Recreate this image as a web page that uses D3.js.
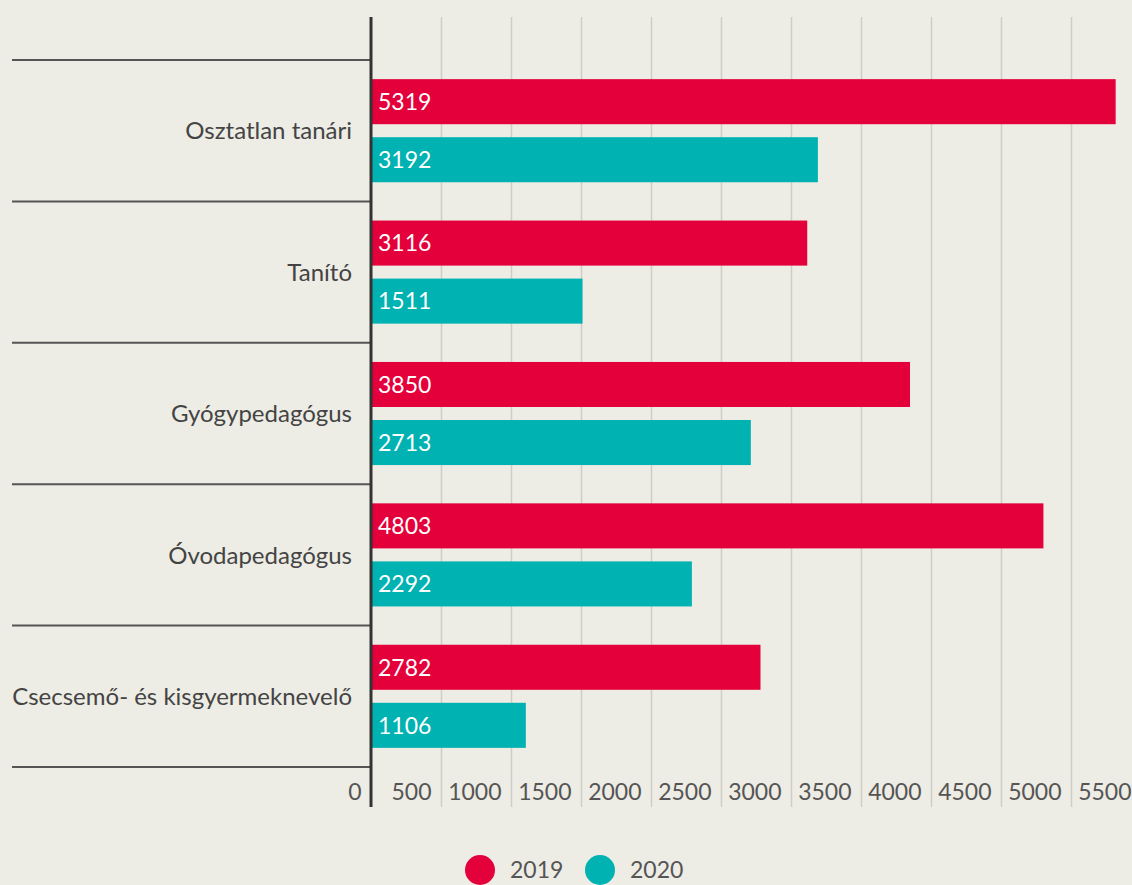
<!DOCTYPE html>
<html>
<head>
<meta charset="utf-8">
<script src="https://cdn.jsdelivr.net/npm/d3@7"></script>
<style>
  body { margin: 0; background: #edece5; }
  svg { display: block; font-family: Lato, "Open Sans", sans-serif; }
  .grid line { stroke: #cfcdc6; stroke-width: 1.5; }
  .grid path { display: none; }
  .xlabels path, .xlabels line { display: none; }
  .xlabels text { fill: #555; font-size: 23px; font-family: Lato, sans-serif; }
  .cat { fill: #444; font-size: 24px; }
  .value { fill: #fff; font-size: 23px; }
  .sep { stroke: #555; stroke-width: 2; }
</style>
</head>
<body>
<div id="grafico"><svg width="1132" height="885"></svg></div>
<script>
const categorias = ['Osztatlan tanári', 'Tanító', 'Gyógypedagógus', 'Óvodapedagógus', 'Csecsemő- és kisgyermeknevelő']
const series = ['2019', '2020']
const valores2019 = [5319, 3116, 3850, 4803, 2782]
const valores2020 = [3192, 1511, 2713, 2292, 1106]
const ticks = [0, 500, 1000, 1500, 2000, 2500, 3000, 3500, 4000, 4500, 5000, 5500]
const cores = ['#e4003a', '#00b2b1']

const dados = categorias.map((c, i) => ({ name: c, valores: [valores2019[i], valores2020[i]] }))

const svg = d3.select('#grafico svg')

const margin = { top: 60, left: 371 }
const height = 707
const gridTop = 17, gridBottom = 807

const xScale = d3.scaleLinear()
  .domain([0, 5500])
  .range([margin.left, margin.left + 770])

const yScale = d3.scaleBand()
  .domain(categorias)
  .range([margin.top, margin.top + height])

const ySub = d3.scaleBand()
  .domain(series)
  .range([0, yScale.bandwidth()])
  .paddingInner(0.224)
  .paddingOuter(0.33)

/*grid*/
svg.append('g')
  .attr('class', 'grid')
  .attr('transform', `translate(0, ${gridBottom})`)
  .call(d3.axisBottom(xScale)
    .tickValues(ticks.slice(1))
    .tickSize(-(gridBottom - gridTop))
    .tickFormat('')
  )

/*separadores*/
const bordas = categorias.map(c => yScale(c)).concat([margin.top + height])
svg.selectAll('.sep')
  .data(bordas)
  .enter()
  .append('line')
  .attr('class', 'sep')
  .attr('x1', 12)
  .attr('x2', margin.left)
  .attr('y1', d => d)
  .attr('y2', d => d)

/*barras*/
const grupos = svg.selectAll('.cat-g')
  .data(dados)
  .enter()
  .append('g')
  .attr('transform', d => `translate(0, ${yScale(d.name)})`)

grupos.selectAll('rect')
  .data(d => d.valores.map((v, i) => ({ serie: series[i], v: v, i: i })))
  .enter()
  .append('rect')
  .attr('x', xScale(0))
  .attr('y', d => ySub(d.serie))
  .attr('width', d => xScale(d.v) - xScale(0))
  .attr('height', ySub.bandwidth())
  .attr('fill', d => cores[d.i])

grupos.selectAll('.value')
  .data(d => d.valores.map((v, i) => ({ serie: series[i], v: v })))
  .enter()
  .append('text')
  .attr('class', 'value')
  .attr('x', xScale(0) + 7)
  .attr('y', d => ySub(d.serie) + ySub.bandwidth() / 2)
  .attr('dy', '0.36em')
  .text(d => d.v)

grupos.append('text')
  .attr('class', 'cat')
  .attr('x', 352)
  .attr('y', yScale.bandwidth() / 2)
  .attr('dy', '0.36em')
  .attr('text-anchor', 'end')
  .text(d => d.name)

/*eixo y*/
svg.append('line')
  .attr('x1', xScale(0))
  .attr('x2', xScale(0))
  .attr('y1', gridTop)
  .attr('y2', gridBottom)
  .attr('stroke', '#333')
  .attr('stroke-width', 3)

/*txt x axis*/
svg.append('g')
  .attr('class', 'xlabels')
  .attr('transform', `translate(0, 800)`)
  .call(d3.axisBottom(xScale).tickValues(ticks).tickFormat(d3.format('d')).tickSize(0).tickPadding(0))
  .selectAll('text')
  .attr('text-anchor', 'end')
  .attr('dx', -10)
  .attr('dy', 0)
  .attr('y', 0)

/*legenda*/
const legenda = svg.append('g')
  .selectAll('g')
  .data(series)
  .enter()
  .append('g')
  .attr('transform', (d, i) => `translate(${480 + i * 120}, 870)`)

legenda.append('circle')
  .attr('r', 15)
  .attr('fill', (d, i) => cores[i])

legenda.append('text')
  .attr('x', 30)
  .attr('dy', '0.36em')
  .attr('fill', '#555')
  .style('font-size', '23px')
  .text(d => d)
</script>
</body>
</html>
